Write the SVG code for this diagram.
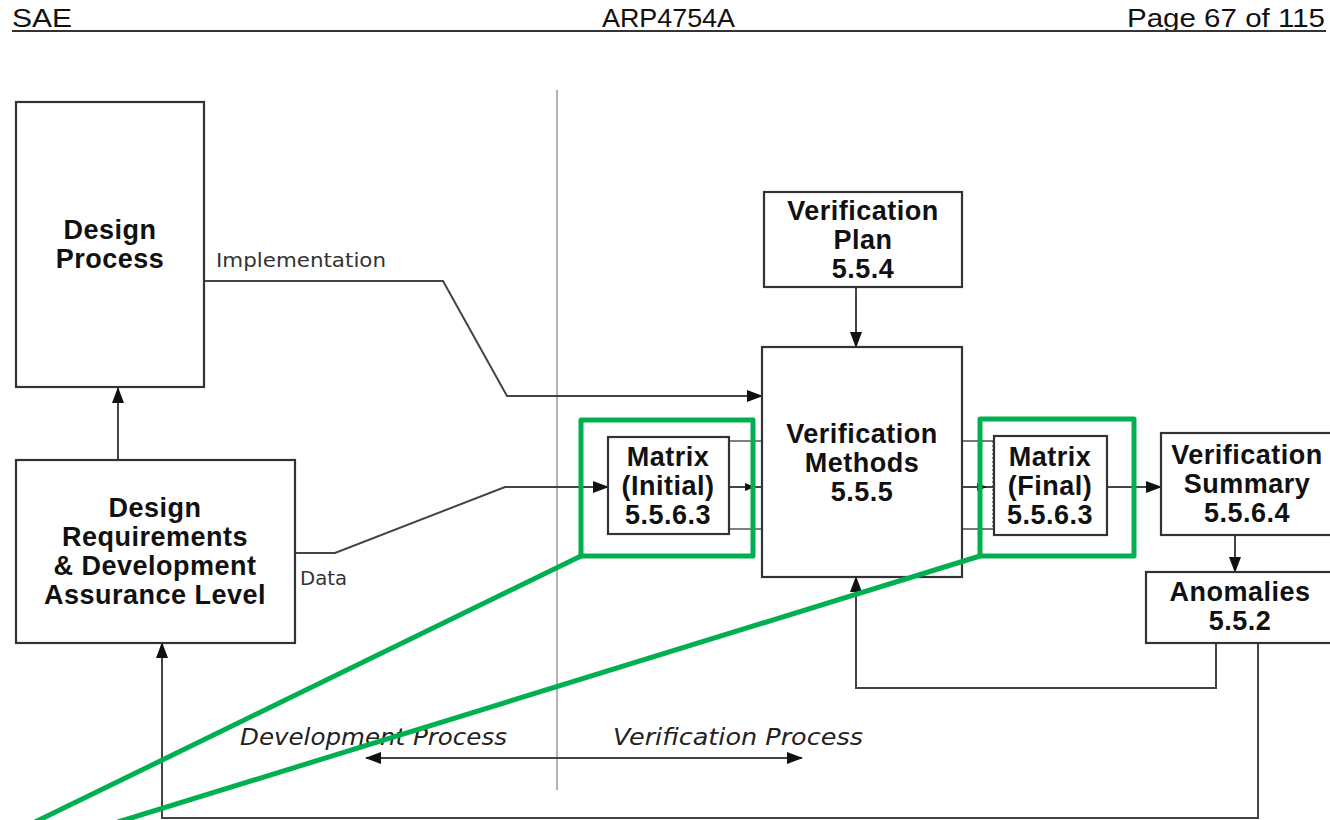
<svg xmlns="http://www.w3.org/2000/svg" width="1330" height="820" viewBox="0 0 1330 820">
  <style>
    .box { fill: #ffffff; stroke: #333333; stroke-width: 2.2; }
    .lbl { font-family: "Liberation Sans", Arial, sans-serif; font-weight: bold; font-size: 27px; letter-spacing: 0.5px; fill: #111111; text-anchor: middle; }
    .hdr { font-family: "Liberation Sans", Arial, sans-serif; font-size: 26px; fill: #111111; }
    .small { font-family: "DejaVu Sans", Verdana, sans-serif; font-size: 20px; fill: #333333; }
    .proc { font-family: "DejaVu Sans", Verdana, sans-serif; font-style: italic; font-size: 23px; fill: #222222; }
    .wire { fill: none; stroke: #444444; stroke-width: 2; }
    .thin { fill: none; stroke: #555555; stroke-width: 1.6; }
    .dot { fill: none; stroke: #666666; stroke-width: 1.5; stroke-dasharray: 2 2; }
    .hl { fill: none; stroke: #00b050; stroke-width: 5; stroke-linejoin: round; }
  </style>
  <defs>
    <marker id="arrow" markerUnits="userSpaceOnUse" markerWidth="16" markerHeight="12" refX="15" refY="6" orient="auto">
      <path d="M0,0 L16,6 L0,12 Z" fill="#111111"/>
    </marker>
    <marker id="arrowStart" markerUnits="userSpaceOnUse" markerWidth="16" markerHeight="12" refX="1" refY="6" orient="auto">
      <path d="M16,0 L0,6 L16,12 Z" fill="#111111"/>
    </marker>
    <marker id="tick" markerUnits="userSpaceOnUse" markerWidth="10" markerHeight="8" refX="9" refY="4" orient="auto">
      <path d="M0,0 L10,4 L0,8 Z" fill="#111111"/>
    </marker>
  </defs>

  <rect x="0" y="0" width="1330" height="820" fill="#ffffff"/>

  <!-- page header -->
  <g id="header">
    <text class="hdr" x="12" y="27" textLength="60" lengthAdjust="spacingAndGlyphs">SAE</text>
    <text class="hdr" x="602" y="27" textLength="133" lengthAdjust="spacingAndGlyphs">ARP4754A</text>
    <text class="hdr" x="1127" y="27" textLength="198" lengthAdjust="spacingAndGlyphs">Page 67 of 115</text>
    <line x1="12" y1="31" x2="1326" y2="31" stroke="#333333" stroke-width="2.2"/>
  </g>

  <!-- connectors -->
  <g id="connectors">
    <!-- development / verification divider -->
    <line x1="557" y1="90" x2="557" y2="790" stroke="#9a9a9a" stroke-width="1.5"/>
    <path class="wire" d="M118,460 V388" marker-end="url(#arrow)"/>
    <path class="wire" d="M204,281 H443 L507,396 H762" marker-end="url(#arrow)"/>
    <path class="wire" d="M295,553 H335 L505,487 H608" marker-end="url(#arrow)"/>
    <path class="wire" d="M856,287 V347" marker-end="url(#arrow)"/>
    <!-- matrix (initial) to methods -->
    <path class="thin" d="M729,441 H762"/>
    <path class="thin" d="M729,529 H762"/>
    <path class="wire" d="M729,487 H754" marker-end="url(#tick)"/>
    <path class="wire" d="M754,487 H762"/>
    <!-- methods to matrix (final) -->
    <path class="thin" d="M962,441 H994"/>
    <path class="thin" d="M962,529 H994"/>
    <path class="dot" d="M993,441 V529"/>
    <path class="wire" d="M962,487 H986" marker-end="url(#tick)"/>
    <path class="wire" d="M986,487 H994"/>
    <path class="wire" d="M1107,487 H1161" marker-end="url(#arrow)"/>
    <path class="wire" d="M1235,535 V572" marker-end="url(#arrow)"/>
    <path class="wire" d="M1216,643 V688 H856 V577" marker-end="url(#arrow)"/>
    <path class="wire" d="M1258,643 V818 H162 V643" marker-end="url(#arrow)"/>
    <path class="wire" d="M366,758 H802" marker-start="url(#arrowStart)" marker-end="url(#arrow)"/>
    <text class="small" x="216" y="267" textLength="170" lengthAdjust="spacingAndGlyphs">Implementation</text>
    <text class="small" x="300" y="585" textLength="47" lengthAdjust="spacingAndGlyphs">Data</text>
    <text class="proc" x="240" y="745" textLength="267" lengthAdjust="spacingAndGlyphs">Development Process</text>
    <text class="proc" x="613" y="745" textLength="250" lengthAdjust="spacingAndGlyphs">Verification Process</text>
  </g>

  <g id="design-process">
    <rect class="box" x="16" y="102" width="188" height="285"/>
    <text class="lbl" x="110" y="239">Design</text>
    <text class="lbl" x="110" y="268">Process</text>
  </g>

  <g id="design-requirements">
    <rect class="box" x="16" y="460" width="279" height="183"/>
    <text class="lbl" x="155" y="517">Design</text>
    <text class="lbl" x="155" y="546">Requirements</text>
    <text class="lbl" x="155" y="575">&amp; Development</text>
    <text class="lbl" x="155" y="604">Assurance Level</text>
  </g>

  <g id="verification-plan">
    <rect class="box" x="764" y="192" width="198" height="95"/>
    <text class="lbl" x="863" y="220">Verification</text>
    <text class="lbl" x="863" y="249">Plan</text>
    <text class="lbl" x="863" y="278">5.5.4</text>
  </g>

  <g id="verification-methods">
    <rect class="box" x="762" y="347" width="200" height="230"/>
    <text class="lbl" x="862" y="443">Verification</text>
    <text class="lbl" x="862" y="472">Methods</text>
    <text class="lbl" x="862" y="501">5.5.5</text>
  </g>

  <g id="matrix-initial">
    <rect class="box" x="608" y="437" width="121" height="97"/>
    <text class="lbl" x="668" y="466">Matrix</text>
    <text class="lbl" x="668" y="495">(Initial)</text>
    <text class="lbl" x="668" y="524">5.5.6.3</text>
  </g>

  <g id="matrix-final">
    <rect class="box" x="994" y="436" width="113" height="99"/>
    <text class="lbl" x="1050" y="466">Matrix</text>
    <text class="lbl" x="1050" y="495">(Final)</text>
    <text class="lbl" x="1050" y="524">5.5.6.3</text>
  </g>

  <g id="verification-summary">
    <rect class="box" x="1161" y="433" width="185" height="102"/>
    <text class="lbl" x="1247" y="464">Verification</text>
    <text class="lbl" x="1247" y="493">Summary</text>
    <text class="lbl" x="1247" y="522">5.5.6.4</text>
  </g>

  <g id="anomalies">
    <rect class="box" x="1146" y="572" width="200" height="71"/>
    <text class="lbl" x="1240" y="601">Anomalies</text>
    <text class="lbl" x="1240" y="630">5.5.2</text>
  </g>

  <!-- green call-out frames around the two matrices -->
  <g id="callouts">
    <rect class="hl" x="581" y="420" width="172" height="136"/>
    <rect class="hl" x="980" y="419" width="154" height="137"/>
    <line class="hl" x1="581" y1="556" x2="35" y2="822"/>
    <line class="hl" x1="980" y1="556" x2="118" y2="822"/>
  </g>
</svg>
